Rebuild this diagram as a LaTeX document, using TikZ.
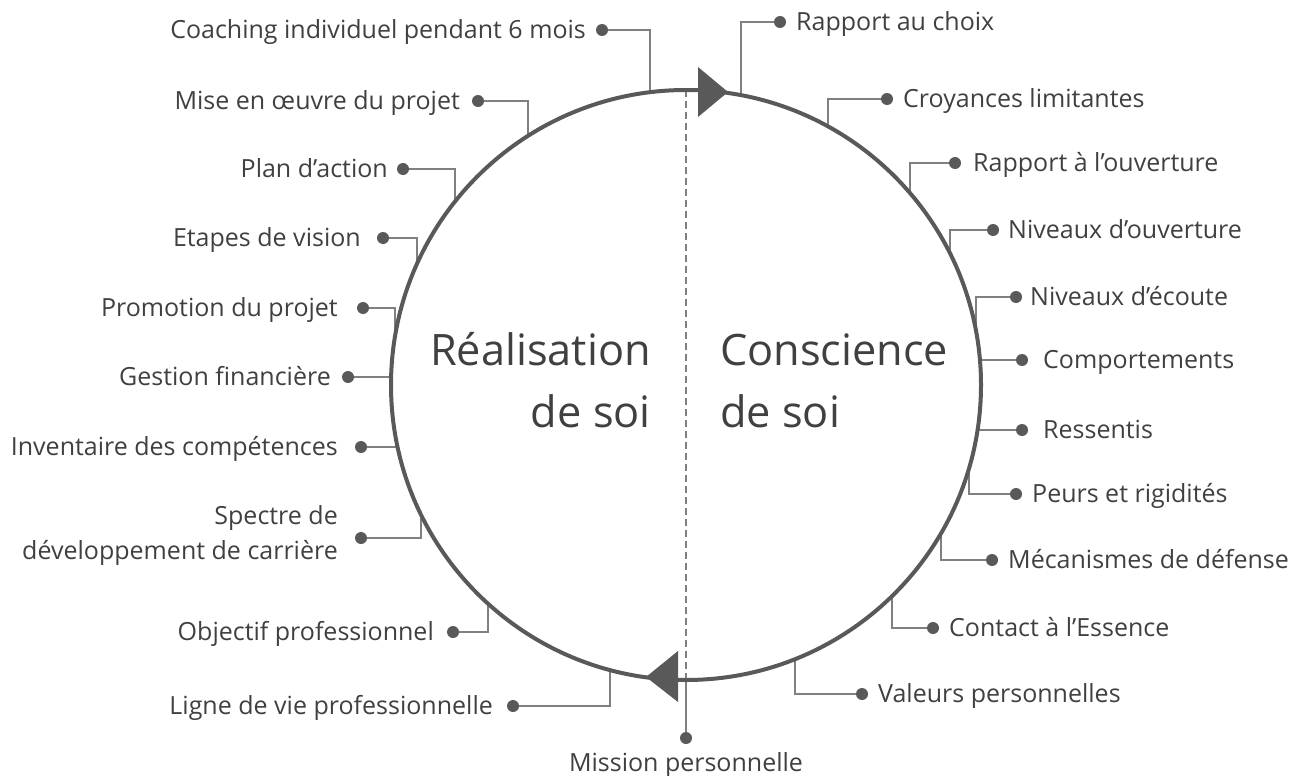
\documentclass[tikz,border=0pt]{standalone}
\usepackage{fontspec}
\setmainfont{Open Sans}
\usetikzlibrary{calc}
\definecolor{circcol}{HTML}{595959}
\definecolor{conncol}{HTML}{808080}
\definecolor{textcol}{HTML}{404040}
\tikzset{
  circline/.style={draw=circcol, line width=4pt},
  conn/.style={draw=conncol, line width=1.8pt},
  dotnode/.style={circle, fill=circcol, inner sep=0pt, minimum size=12pt},
  lab/.style={text=textcol, inner sep=0pt, font=\fontsize{25}{35}\selectfont},
  bigtext/.style={text=textcol, inner sep=0pt, font=\fontsize{43.3}{50}\selectfont},
}
% #1 name, #2 angle, #3 dot x, #4 dot y, #5 anchor side, #6 label x, #7 text
\newcommand\spoke[7]{%
  \coordinate (c#1) at ({686+295*cos(#2)},{385-295*sin(#2)});
  \node[dotnode] (d#1) at (#3,#4) {};
  \draw[conn] (c#1) |- (d#1);
  \node[lab, anchor=base #5] (l#1) at (#6,#4+8.5) {#7};
}
\begin{document}
\begin{tikzpicture}[x=1pt,y=-1pt]
\useasboundingbox (0,0) rectangle (1306,776);
\coordinate (O) at (686,385);
% right side
\spoke{r1}{79.26}{780}{22}{west}{796}{Rapport au choix}
\spoke{r2}{61.22}{887}{99}{west}{903}{Croyances limitantes}
\spoke{r3}{40.6}{955}{163}{west}{973}{Rapport à l’ouverture}
\spoke{r4}{26.5}{993}{230}{west}{1008}{Niveaux d’ouverture}
\spoke{r5}{10.55}{1016}{297}{west}{1030}{Niveaux d’écoute}
\spoke{r6}{4.86}{1022}{360}{west}{1043}{Comportements}
\spoke{r7}{-8.77}{1022}{430}{west}{1043}{Ressentis}
\spoke{r8}{-16.4}{1016}{494}{west}{1032}{Peurs et rigidités}
\spoke{r9}{-30.2}{992}{560}{west}{1008}{Mécanismes de défense}
\spoke{r10}{-45.7}{933}{628}{west}{949}{Contact à l’Essence}
\spoke{r11}{-68.3}{862}{694}{west}{878}{Valeurs personnelles}
% left side
\spoke{l1}{97.0}{602}{30}{east}{586}{Coaching individuel pendant 6 mois}
\spoke{l2}{122.4}{478}{101}{east}{460}{Mise en œuvre du projet}
\spoke{l3}{141.5}{403}{169}{east}{388}{Plan d’action}
\spoke{l4}{155.8}{383}{238}{east}{361}{Etapes de vision}
\spoke{l5}{170.5}{363}{308}{east}{338}{Promotion du projet}
\spoke{l6}{178.4}{348}{377}{east}{331}{Gestion financière}
\spoke{l7}{192.1}{361}{447}{east}{338}{Inventaire des compétences}
\spoke{l9}{227.8}{453}{632}{east}{434}{Objectif professionnel}
\spoke{l10}{255.1}{513}{706}{east}{493}{Ligne de vie professionnelle}
% two-line label
\coordinate (cl8) at ({686+295*cos(206.1)},{385-295*sin(206.1)});
\node[dotnode] (dl8) at (361,538) {};
\draw[conn] (cl8) |- (dl8);
\node[lab, anchor=east, align=right] (ll8) at (338,535) {Spectre de\\développement de carrière};
% vertical axis
\coordinate (top) at (686,90);
\coordinate (bot) at (686,680);
\node[dotnode] (dm) at (686,738) {};
\draw[conn, line width=1.5pt, dash pattern=on 7pt off 4pt] (top) -- (bot);
\draw[conn] (bot) -- (dm);
\node[lab, anchor=base] (lm) at (686,771) {Mission personnelle};
% circle
\draw[circline] (O) circle[radius=295];
% arrow heads
\fill[circcol] (698,67) -- (728,92) -- (698,117) -- cycle;
\fill[circcol] (678,651) -- (646,677) -- (678,702) -- cycle;
% centre texts
\node[bigtext, anchor=base east] (t1) at (651,365) {Réalisation};
\node[bigtext, anchor=base east] (t2) at (651,427) {de soi};
\node[bigtext, anchor=base west] (t3) at (720,365) {Conscience};
\node[bigtext, anchor=base west] (t4) at (720,427) {de soi};
\end{tikzpicture}
\end{document}
